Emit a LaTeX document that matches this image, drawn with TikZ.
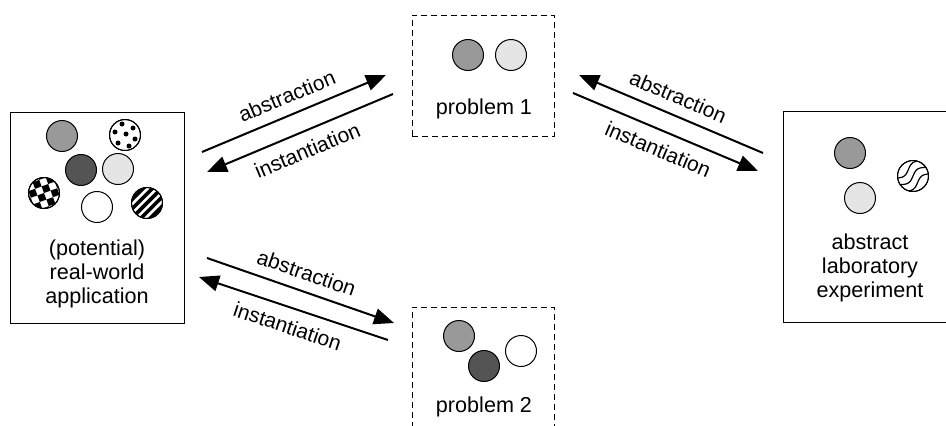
\documentclass[tikz,border=0pt]{standalone}
\usepackage{fontspec}
\setmainfont{Liberation Sans}
\usepackage{tikz}
\usetikzlibrary{arrows.meta,positioning}
\definecolor{ballmid}{gray}{0.6}
\definecolor{balldark}{gray}{0.33}
\definecolor{balllight}{gray}{0.9}
\tikzset{
	box/.style={draw, line width=0.5pt, inner sep=0pt,
		minimum width=87pt, minimum height=105.5pt},
	probbox/.style={box, dash pattern=on 3pt off 2pt,
		minimum width=71pt, minimum height=60.5pt},
	ball/.style={circle, draw, line width=0.5pt, minimum size=15.5pt, inner sep=0pt},
	ball mid/.style={ball, fill=ballmid},
	ball dark/.style={ball, fill=balldark},
	ball light/.style={ball, fill=balllight},
	ball white/.style={ball, fill=white},
	% patterned balls: drawn on top of a white ball
	dots/.pic={
		\clip (0,0) circle (7.75pt);
		\foreach \p in {(-3,11),(8,7),(-10,3),(1,1),(10,-4),(-7,-8),(4,-11)}
			\fill \p circle (1.25pt);
	},
	checks/.pic={
		\clip (0,0) circle (7.75pt);
		\begin{scope}[rotate=20]
			\foreach \i in {-3,...,2}
				\foreach \j in {-3,...,2} {
					\pgfmathtruncatemacro\chk{mod(\i+\j+10,2)}
					\ifnum\chk=0 \fill (\i*7,\j*7) rectangle ++(7,7); \fi
				}
		\end{scope}
	},
	stripes/.pic={
		\clip (0,0) circle (7.75pt);
		\begin{scope}[rotate=-45]
			\foreach \k in {-3,...,3}
				\draw[line width=1.8pt] (\k*6.5,-20) -- ++(0,40);
		\end{scope}
	},
	waves/.pic={
		\clip (0,0) circle (7.75pt);
		\begin{scope}[rotate=35]
			\foreach \k in {-1,0,1}
				\draw[line width=0.6pt] plot[domain=-18:18, samples=30, smooth]
					(\x,{3*sin(\x*12)+\k*8});
		\end{scope}
	},
	boxtext/.style={align=center, font=\fontsize{10.8}{11.8}\selectfont},
	lbl/.style={font=\fontsize{10.5}{11.5}\selectfont, sloped, inner sep=2pt},
	conv/.style={line width=1pt},
	tip/.style={arrows={-Triangle[length=10pt,width=8pt]}},
	pit/.style={arrows={Triangle[length=10pt,width=8pt]-}}
}

\begin{document}
\begin{tikzpicture}[x=0.5pt, y=0.5pt]
	\useasboundingbox (0,0) rectangle (946,425);
	\clip (0,0) rectangle (946,425);

	% boxes
	\node[box] (app) at (97,207.5) {};
	\node[box] (lab) at (870,208) {};
	\node[probbox] (prob1) at (483,349.5) {};
	\node[probbox] (prob2) at (483,57.5) {};

	% real-world application
	\node[ball mid] (a1) at (62,289) {};
	\node[ball white] (a2) at (125,290) {};
	\node[ball dark] (a3) at (81,255) {};
	\node[ball light] (a4) at (118,256) {};
	\node[ball white] (a5) at (44,232) {};
	\node[ball white] (a6) at (97,218) {};
	\node[ball white] (a7) at (147,222) {};
	\pic (a2dots) at (a2) {dots};
	\pic (a5checks) at (a5) {checks};
	\pic (a7stripes) at (a7) {stripes};
	\node[ball] (a2rim) at (a2) {};
	\node[ball] (a5rim) at (a5) {};
	\node[ball] (a7rim) at (a7) {};
	\node[boxtext] (apptext) at (97,151) {(potential)\\real-world\\application};

	% problem 1 and 2
	\node[ball mid] (p1a) at (468,370) {};
	\node[ball light] (p1b) at (511,370) {};
	\node[boxtext] (p1text) at (484,316) {problem 1};
	\node[ball mid] (p2a) at (459,89) {};
	\node[ball dark] (p2b) at (484,59) {};
	\node[ball white] (p2c) at (521,74) {};
	\node[boxtext] (p2text) at (484,18) {problem 2};

	% laboratory experiment
	\node[ball mid] (l1) at (850,272) {};
	\node[ball white] (l2) at (913,249) {};
	\pic (l2waves) at (l2) {waves};
	\node[ball] (l2rim) at (l2) {};
	\node[ball light] (l3) at (860,227) {};
	\node[boxtext] (labtext) at (870,157) {abstract\\laboratory\\experiment};

	% arrow ends
	\coordinate (ab1l) at (202,273);
	\coordinate (ab1r) at (386,350);
	\coordinate (in1l) at (207,253);
	\coordinate (in1r) at (393,331);
	\coordinate (ab2l) at (579,350);
	\coordinate (ab2r) at (763,272);
	\coordinate (in2l) at (573,332);
	\coordinate (in2r) at (758,254);
	\coordinate (ab3l) at (207,167);
	\coordinate (ab3r) at (394,102);
	\coordinate (in3l) at (199,148);
	\coordinate (in3r) at (388,85);

	\draw[conv,tip] (ab1l) -- (ab1r) node[lbl, midway, above=3pt] {abstraction};
	\draw[conv,pit] (in1l) -- (in1r) node[lbl, midway, below=3pt] {instantiation};
	\draw[conv,pit] (ab2l) -- (ab2r) node[lbl, midway, above=3pt] {abstraction};
	\draw[conv,tip] (in2l) -- (in2r) node[lbl, midway, below=3pt] {instantiation};
	\draw[conv,tip] (ab3l) -- (ab3r) node[lbl, midway, above=3pt] {abstraction};
	\draw[conv,pit] (in3l) -- (in3r) node[lbl, midway, below=3pt] {instantiation};
\end{tikzpicture}
\end{document}
